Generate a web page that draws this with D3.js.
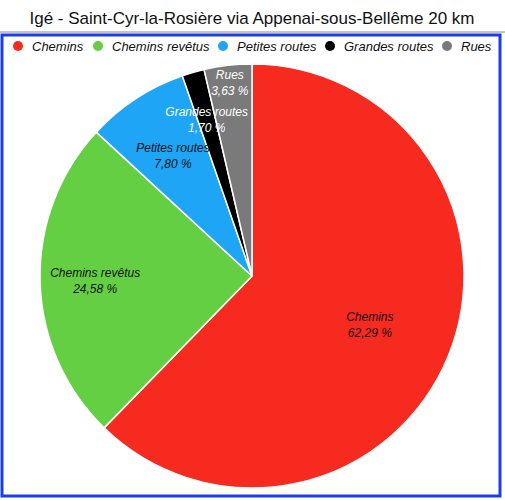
<!DOCTYPE html>
<html><head><meta charset="utf-8">
<style>body{margin:0;background:#fff;font-family:"Liberation Sans",Arial,sans-serif}</style>
</head><body>
<svg width="505" height="500"></svg>
<script src="https://d3js.org/d3.v7.min.js"></script>
<script>
var categories = ["Chemins", "Chemins revêtus", "Petites routes", "Grandes routes", "Rues"];
var values = [62.29, 24.58, 7.80, 1.70, 3.63];
var colors = ["#f62a1f", "#65cf43", "#1ea5f6", "#000000", "#7a7a7a"];
var labelColors = ["#111", "#111", "#111", "#fff", "#fff"];
var labelRadius = [0.6, 0.74, 0.68, 0.77, 0.92];

var svg = d3.select("svg");
var cx = 252, cy = 276, r = 212;

svg.append("text").attr("x", 252).attr("y", 24).attr("text-anchor", "middle")
    .attr("font-size", 17).attr("fill", "#111")
    .text("Igé - Saint-Cyr-la-Rosière via Appenai-sous-Bellême 20 km");
svg.append("line").attr("x1", 0).attr("x2", 505).attr("y1", 32).attr("y2", 32).attr("stroke", "#888");
svg.append("rect").attr("x", 2).attr("y", 35).attr("width", 498).attr("height", 461)
    .attr("fill", "none").attr("stroke", "#1a3de8").attr("stroke-width", 3);

// legend
var lx = [18, 98, 223, 330, 447];
var lg = svg.append("g").selectAll("g").data(categories).enter().append("g")
    .attr("transform", function(d, i) { return "translate(" + lx[i] + ",46)"; });
lg.append("circle").attr("r", 5).attr("fill", function(d, i) { return colors[i]; });
lg.append("text").attr("x", 14).attr("y", 5).attr("font-size", 13).attr("font-style", "italic")
    .attr("fill", "#111").text(function(d) { return d; });

var pie = d3.pie().sort(null).value(function(d) { return d; });
var arcs = pie(values);
var arc = d3.arc().innerRadius(0).outerRadius(r);
var g = svg.append("g").attr("transform", "translate(" + cx + "," + cy + ")");
g.selectAll("path").data(arcs).enter().append("path")
    .attr("d", arc).attr("fill", function(d, i) { return colors[i]; })
    .attr("stroke", "#fff").attr("stroke-width", 1.5);

var lab = g.selectAll("g.lab").data(arcs).enter().append("g")
    .attr("transform", function(d, i) {
      var a = (d.startAngle + d.endAngle) / 2, rr = r * labelRadius[i];
      return "translate(" + (Math.sin(a) * rr) + "," + (-Math.cos(a) * rr) + ")";
    });
lab.append("text").attr("text-anchor", "middle").attr("y", -3)
    .attr("font-size", 12).attr("font-style", "italic")
    .attr("fill", function(d, i) { return labelColors[i]; })
    .text(function(d, i) { return categories[i]; });
lab.append("text").attr("text-anchor", "middle").attr("y", 13)
    .attr("font-size", 12).attr("font-style", "italic")
    .attr("fill", function(d, i) { return labelColors[i]; })
    .text(function(d) { return d.data.toFixed(2).replace(".", ",") + " %"; });
</script>
</body></html>
